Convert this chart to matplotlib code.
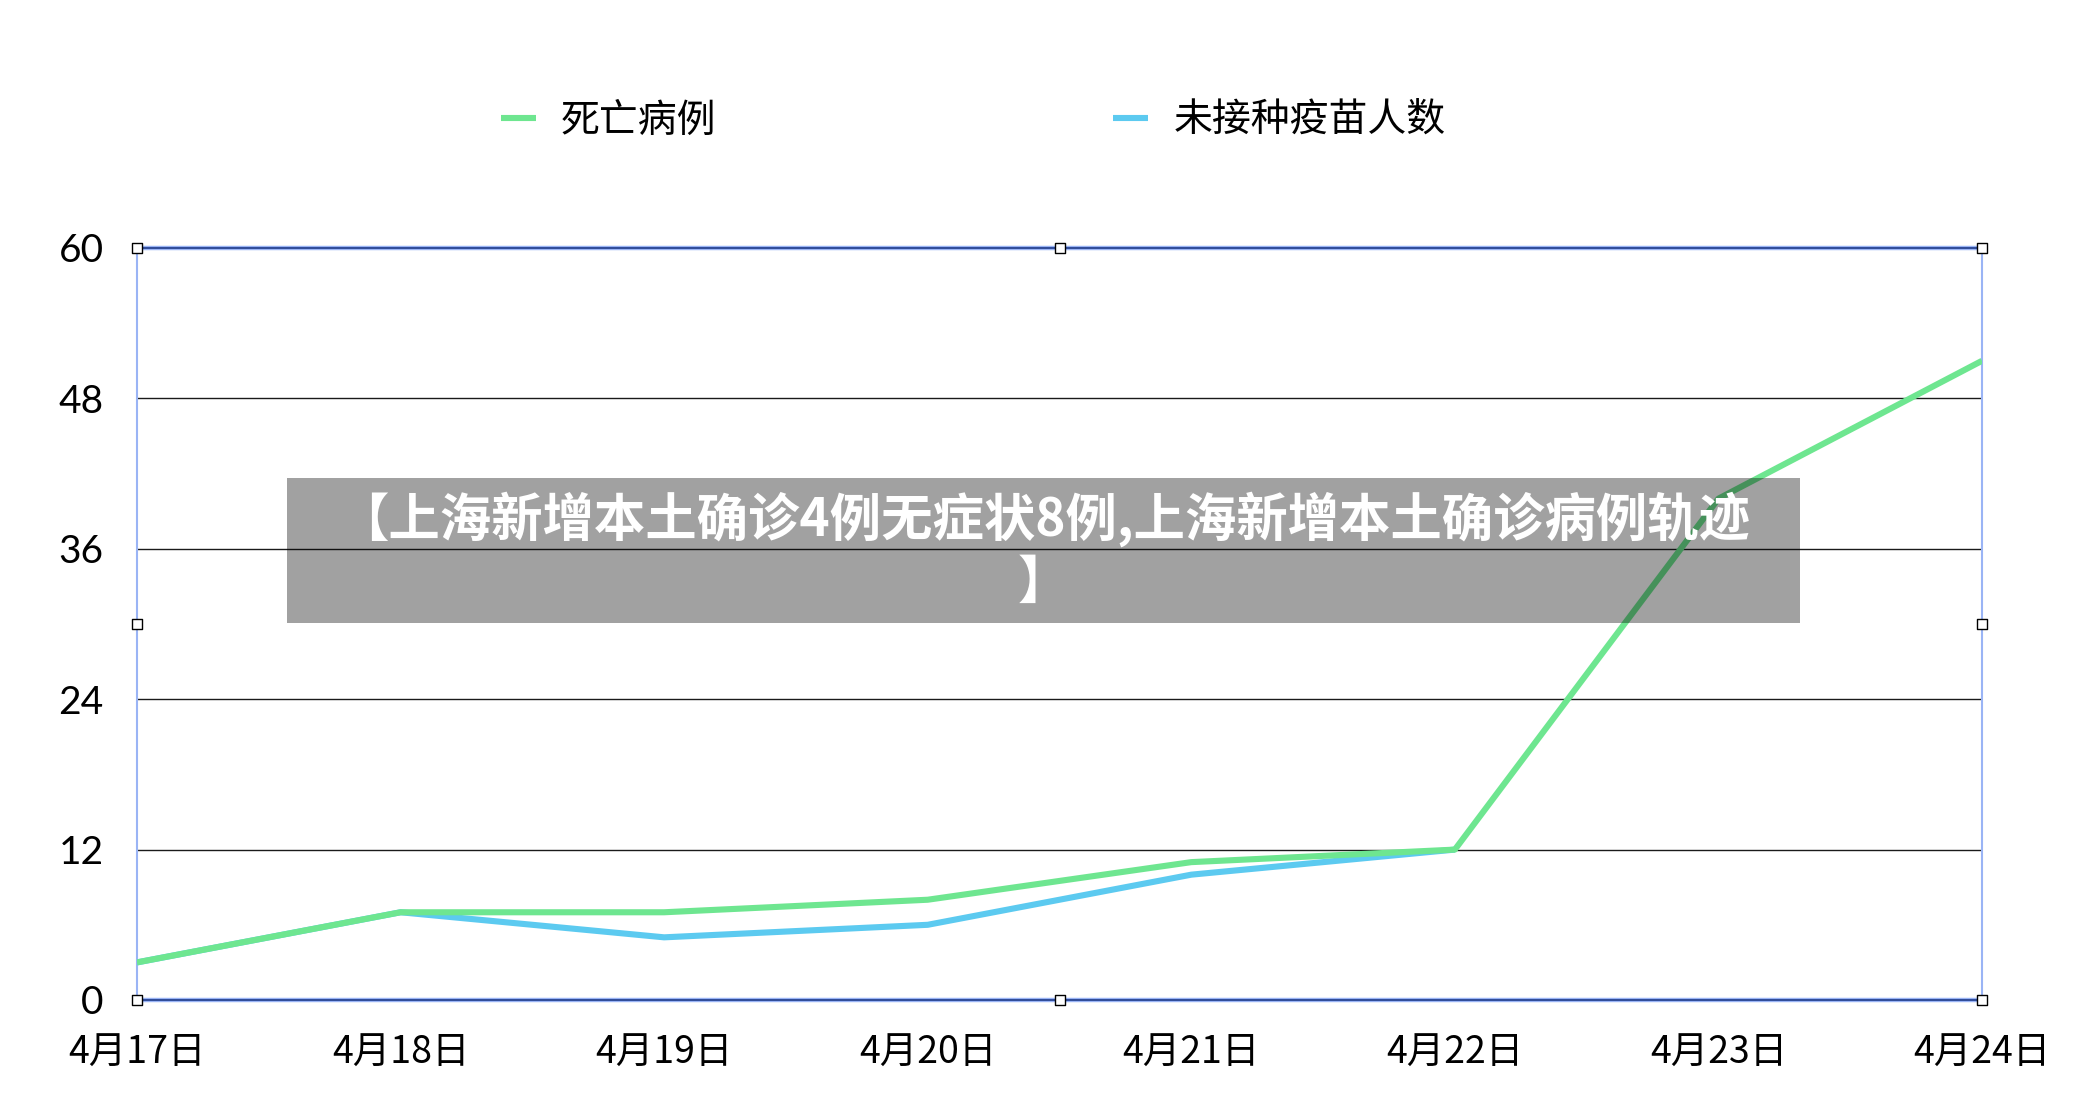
import matplotlib
matplotlib.use("Agg")
import matplotlib.pyplot as plt
from matplotlib.patches import Rectangle
import numpy as np

plt.rcParams['font.family'] = ['Noto Sans CJK SC', 'DejaVu Sans']

dates = ["4月17日", "4月18日", "4月19日", "4月20日", "4月21日", "4月22日", "4月23日", "4月24日"]
deaths = [3, 7, 7, 8, 11, 12, 40, 51]
unvaccinated = [3, 7, 5, 6, 10, 12, np.nan, np.nan]
yticks = [0, 12, 24, 36, 48, 60]
series_names = ["死亡病例", "未接种疫苗人数"]
title = "【上海新增本土确诊4例无症状8例,上海新增本土确诊病例轨迹\n】"

green = "#6ee690"
blue = "#5ccaf0"

W, H = 2080, 1100
fig = plt.figure(figsize=(W / 100, H / 100), dpi=100)
left, right, top, bottom = 137, 1982, 248, 1000
ax = fig.add_axes([left / W, 1 - bottom / H, (right - left) / W, (bottom - top) / H])

x = np.arange(len(dates))
l2, = ax.plot(x, unvaccinated, color=blue, lw=4.4, solid_capstyle='butt', zorder=3, label=series_names[1])
l1, = ax.plot(x, deaths, color=green, lw=4.4, solid_capstyle='butt', zorder=4, label=series_names[0])

ax.set_xlim(0, len(dates) - 1)
ax.set_ylim(0, 60)
ax.set_xticks(x)
ax.set_xticklabels(dates, fontsize=27)
ax.set_yticks(yticks)
ax.set_yticklabels([str(v) for v in yticks], fontsize=28, family=['Lato', 'DejaVu Sans'])
ax.tick_params(axis='both', length=0)
ax.tick_params(axis='x', pad=24)
ax.tick_params(axis='y', pad=24)

for v in yticks[1:-1]:
    ax.axhline(v, color='#1a1a1a', lw=1.0, zorder=1)

for s in ['left', 'right']:
    ax.spines[s].set_color('#9ab4f5')
    ax.spines[s].set_linewidth(1.5)
for s in ['top', 'bottom']:
    ax.spines[s].set_color('#1e3a8a')
    ax.spines[s].set_linewidth(1.2)
# light blue halo for top/bottom
for yy in [0, 1]:
    ax.plot([0, 1], [yy, yy], transform=ax.transAxes, color='#9ab4f5', lw=3.2, zorder=0.5, clip_on=False)

# selection handles
hx = [0, 0.5, 1, 0, 1, 0, 0.5, 1]
hy = [1, 1, 1, 0.5, 0.5, 0, 0, 0]
ax.scatter(hx, hy, transform=ax.transAxes, marker='s', s=55, facecolor='white',
           edgecolor='black', linewidth=1.0, zorder=10, clip_on=False)

leg = fig.legend(handles=[l1, l2], labels=series_names, loc='center',
                 bbox_to_anchor=(973 / W, 1 - 121 / H), ncol=2, frameon=False,
                 fontsize=28, handlelength=0.9, handletextpad=0.65, columnspacing=10.2)

# overlay title box
bx0, bx1, by0, by1 = 287, 1800, 478, 623
fig.patches.append(Rectangle((bx0 / W, 1 - by1 / H), (bx1 - bx0) / W, (by1 - by0) / H,
                             transform=fig.transFigure, facecolor='black', alpha=0.37,
                             edgecolor='none', zorder=20))
fig.text((bx0 + bx1) / 2 / W, 1 - 550 / H, title, ha='center', va='center', color='white',
         fontsize=37, fontweight='black', linespacing=1.2, zorder=21)

fig.savefig("out.png", dpi=100, facecolor='white')
